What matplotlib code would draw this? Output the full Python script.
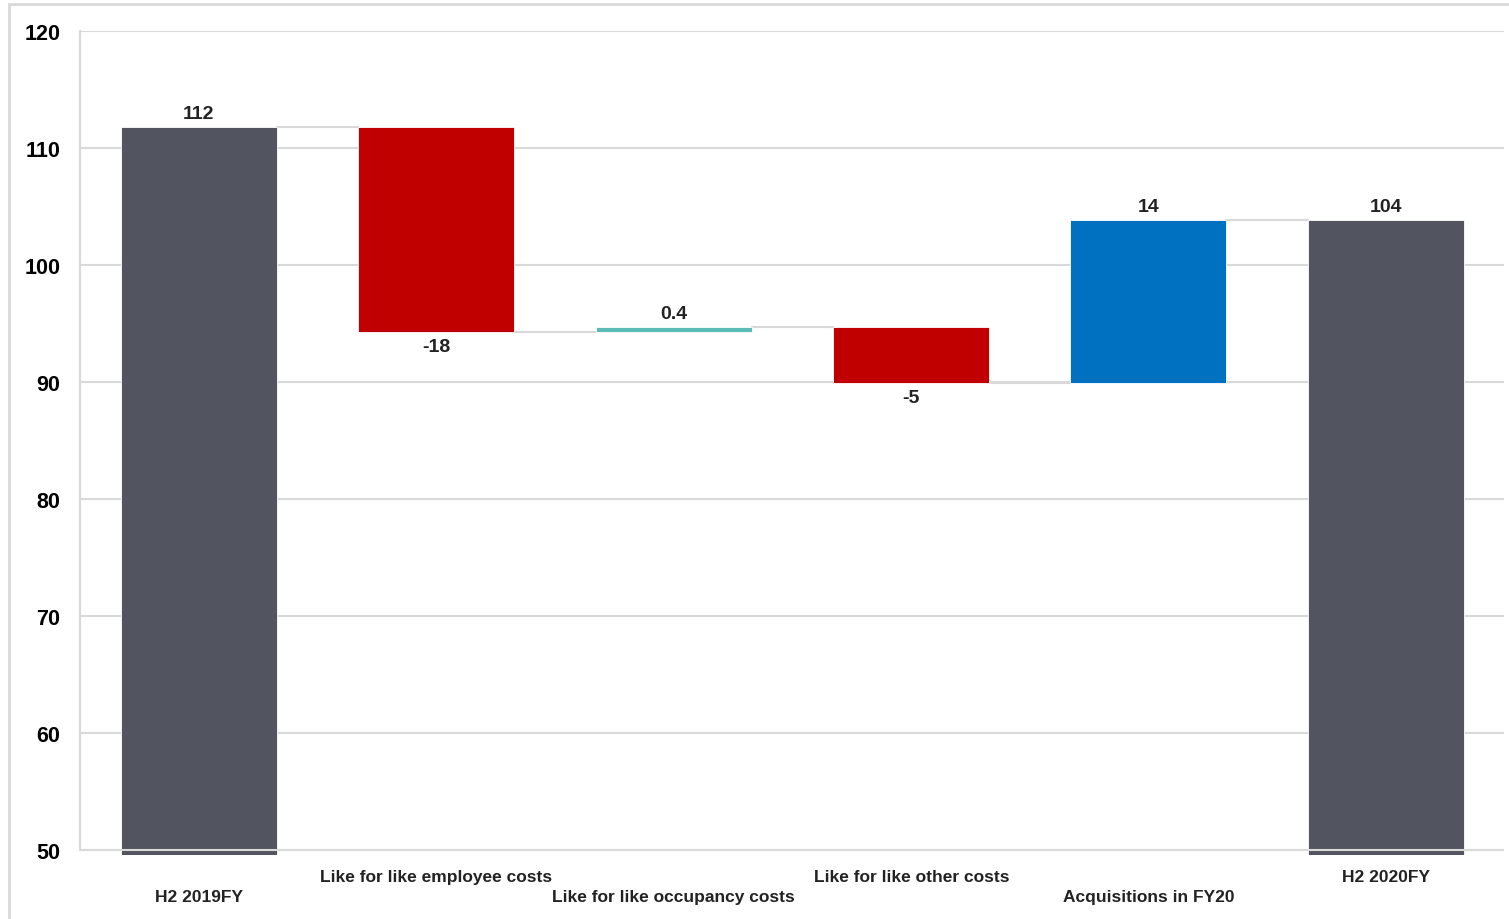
import matplotlib.pyplot as plt
from matplotlib.patches import Rectangle

# waterfall: opening total, movements, closing total
categories = ['H2 2019FY', 'Like for like employee costs', 'Like for like occupancy costs',
              'Like for like other costs', 'Acquisitions in FY20', 'H2 2020FY']
start_value = 111.8
changes = [-17.5, 0.4, -4.8, 14.0]
end_value = 103.9
labels = ['112', '-18', '0.4', '-5', '14', '104']

GREY = '#52545f'
RED = '#c00000'
BLUE = '#0070c0'
TEAL = '#5bbcb5'
LINE = '#d9d9d9'

plt.rcParams['font.family'] = ['Liberation Sans', 'DejaVu Sans']

fig = plt.figure(figsize=(15.09, 9.2), dpi=100)
ax = fig.add_axes([0.053, 0.070, 0.944, 0.895])

width = 0.657
bottoms, heights, colors = [], [], []
bottoms.append(0)
heights.append(start_value)
colors.append(GREY)
level = start_value
for i, c in enumerate(changes):
    new_level = level + c
    bottoms.append(min(level, new_level))
    heights.append(abs(c))
    if i == 1:
        colors.append(TEAL)
    elif c < 0:
        colors.append(RED)
    else:
        colors.append(BLUE)
    level = new_level
bottoms.append(0)
heights.append(end_value)
colors.append(GREY)

x = list(range(len(categories)))
ax.bar(x, heights, bottom=bottoms, width=width, color=colors,
       edgecolor='white', linewidth=0.6, zorder=2)

# connector lines between bars
levels = [start_value]
for c in changes:
    levels.append(levels[-1] + c)
for i in range(len(x) - 1):
    ax.plot([x[i] + width / 2, x[i + 1] - width / 2], [levels[i], levels[i]],
            color=LINE, lw=1.5, zorder=1)

# value labels
values = [start_value] + changes + [end_value]
for i, v in enumerate(values):
    top = bottoms[i] + heights[i]
    if v >= 0:
        ax.text(x[i], top + 0.4, labels[i], ha='center', va='bottom',
                fontsize=14, fontweight='bold', color='#222222')
    else:
        ax.text(x[i], bottoms[i] - 0.5, labels[i], ha='center', va='top',
                fontsize=14, fontweight='bold', color='#222222')

ax.set_xlim(-0.5, 5.5)
ax.set_ylim(49.6, 120)
ax.set_yticks(range(50, 121, 10))
ax.yaxis.grid(True, color=LINE, lw=1.5, zorder=0)
ax.set_axisbelow(True)
ax.axhline(50, color=LINE, lw=1.5, zorder=3)
ax.tick_params(axis='y', length=0, pad=14, labelsize=15.5)
for t in ax.get_yticklabels():
    t.set_fontweight('bold')
ax.set_xticks([])
for s in ['top', 'right', 'bottom']:
    ax.spines[s].set_visible(False)
ax.spines['left'].set_color(LINE)
ax.spines['left'].set_linewidth(1.5)
ax.spines['left'].set_bounds(50, 120)

# staggered category names
rows = [898, 878, 898, 878, 898, 878]
for i, name in enumerate(categories):
    fig.text((80 + (i + 0.5) * 237.5) / 1509, 1 - rows[i] / 920, name,
             ha='center', va='center', fontsize=12.5, fontweight='bold', color='#222222')

# outer frame
fig.patches.append(Rectangle((9 / 1509, -0.01), 1.1, 1 - 5 / 920 + 0.01,
                             transform=fig.transFigure, fill=False,
                             edgecolor=LINE, lw=2))

fig.savefig('out.png', dpi=100)
